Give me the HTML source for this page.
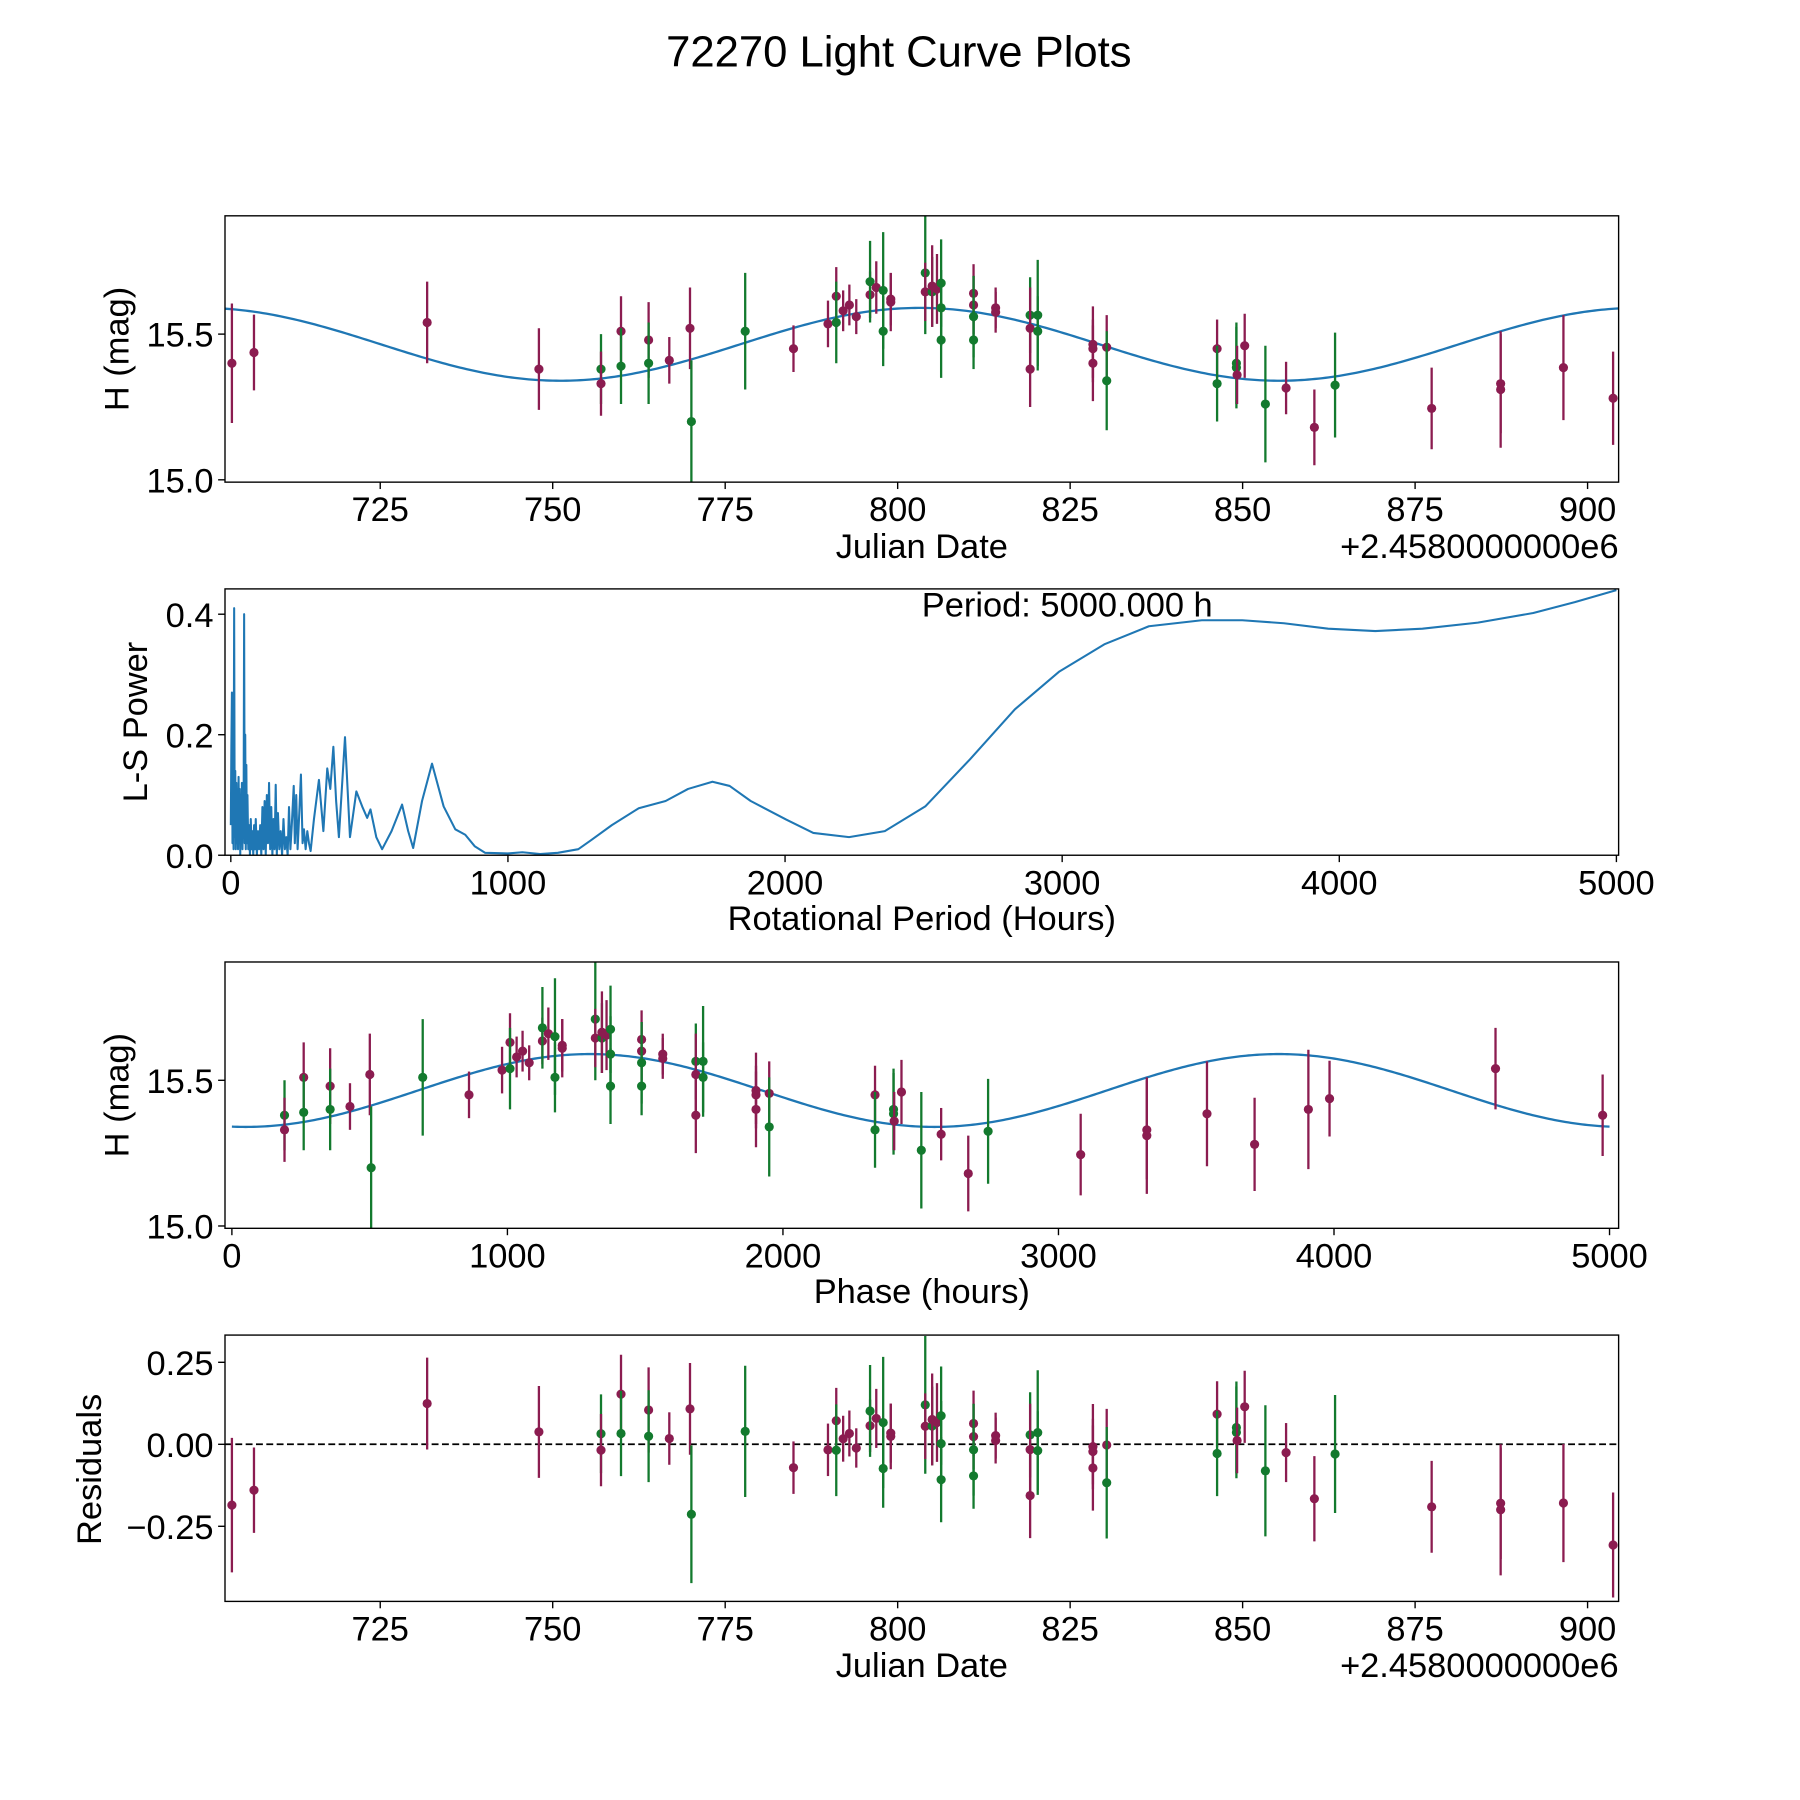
<!DOCTYPE html>
<html><head><meta charset="utf-8"><style>
html,body{margin:0;padding:0;background:#fff}
svg{display:block}
text{font-family:"Liberation Sans",sans-serif;fill:#000}
</style></head>
<body>
<svg id="fig" width="1800" height="1800" viewBox="0 0 1568 1568" xmlns="http://www.w3.org/2000/svg">
<rect width="1568" height="1568" fill="#fff"/>
<text x="783" y="58" font-size="38" text-anchor="middle">72270 Light Curve Plots</text>
</svg>
<script>
// ---- data ----
const obsDates = [703.5,706.7,731.8,748.0,757.0,757.0,759.9,759.9,763.9,763.9,766.9,769.9,770.1,777.9,784.9,789.9,791.1,791.1,792.1,793.0,794.0,796.0,796.0,796.9,797.9,797.9,799.0,799.0,804.0,804.0,805.0,805.0,805.7,806.3,806.3,806.3,811.0,811.0,811.0,811.0,814.2,814.2,819.2,819.2,819.2,820.3,820.3,828.3,828.3,828.3,830.3,830.3,846.3,846.3,849.1,849.1,849.2,850.3,853.3,856.3,860.4,863.4,877.4,887.4,887.4,896.5,903.7];
const obsMags = [15.40,15.437,15.54,15.38,15.38,15.33,15.51,15.39,15.48,15.40,15.41,15.52,15.20,15.51,15.45,15.535,15.63,15.54,15.58,15.60,15.56,15.635,15.68,15.66,15.65,15.51,15.61,15.62,15.71,15.645,15.645,15.665,15.655,15.675,15.59,15.48,15.64,15.60,15.56,15.48,15.59,15.575,15.565,15.52,15.38,15.565,15.51,15.465,15.45,15.40,15.455,15.34,15.45,15.33,15.40,15.385,15.36,15.46,15.26,15.315,15.18,15.325,15.245,15.33,15.31,15.385,15.28];
const obsErrs = [0.205,0.13,0.14,0.14,0.12,0.11,0.12,0.13,0.13,0.14,0.08,0.14,0.21,0.2,0.08,0.08,0.1,0.14,0.07,0.07,0.06,0.08,0.14,0.09,0.2,0.12,0.1,0.09,0.21,0.1,0.12,0.14,0.12,0.15,0.13,0.13,0.1,0.1,0.14,0.1,0.07,0.07,0.13,0.14,0.13,0.19,0.12,0.13,0.1,0.13,0.11,0.17,0.1,0.13,0.14,0.14,0.1,0.11,0.2,0.09,0.13,0.18,0.14,0.17,0.2,0.18,0.16];
const obsBand = ['M','M','M','M','G','M','M','G','M','G','M','M','G','G','M','M','M','G','M','M','M','M','G','M','G','G','M','M','G','M','G','M','M','G','G','G','M','M','G','G','M','M','G','M','M','G','G','M','M','M','M','G','M','G','G','G','M','M','G','M','M','G','M','M','M','M','M'];
const lsPeriods = [0,2,4,6,8,10,12,14,16,18,20,22,24,26,28,30,32,34,36,38,40,42,44,46,48,50,52,54,56,58,60,63,66,69,72,75,78,81,84,87,90,94,98,102,106,110,114,118,122,126,130,134,138,142,146,150,154,158,162,166,170,175,180,185,190,195,200,205,210,215,220,227,231,236,241,247,253,259,264,270,276,282,288,300,318,334,348,359,370,380,390,412,430,453,474,492,504,525,546,580,618,640,658,690,726,768,810,846,880,918,1000,1052,1116,1180,1254,1300,1375,1472,1569,1650,1738,1800,1876,2005,2102,2231,2360,2506,2667,2829,2990,3152,3313,3504,3650,3800,3960,4130,4300,4500,4700,4850,5000];
const lsPower = [0.05,0.18,0.27,0.02,0.12,0.01,0.41,0.03,0.14,0.01,0.12,0.02,0.10,0.01,0.13,0.03,0.11,0.0,0.09,0.02,0.12,0.01,0.08,0.03,0.40,0.02,0.2,0.01,0.15,0.02,0.10,0.01,0.05,0.0,0.06,0.01,0.04,0.0,0.05,0.01,0.06,0.0,0.04,0.01,0.05,0.0,0.08,0.01,0.09,0.0,0.10,0.02,0.12,0.01,0.08,0.0,0.06,0.01,0.117,0.0,0.07,0.01,0.04,0.0,0.06,0.01,0.03,0.0,0.08,0.01,0.05,0.115,0.02,0.10,0.01,0.07,0.134,0.02,0.043,0.01,0.04,0.02,0.007,0.06,0.125,0.04,0.144,0.11,0.18,0.09,0.03,0.196,0.03,0.106,0.081,0.062,0.076,0.03,0.01,0.04,0.084,0.04,0.012,0.09,0.152,0.081,0.043,0.034,0.015,0.004,0.003,0.005,0.002,0.004,0.01,0.025,0.05,0.078,0.09,0.11,0.122,0.115,0.09,0.059,0.037,0.030,0.04,0.081,0.159,0.242,0.305,0.35,0.38,0.39,0.39,0.385,0.376,0.372,0.376,0.386,0.402,0.42,0.44];
const modelMean = 15.465, modelAmp = 0.125, modelHalfPeriod = 2500, modelShift = 50;
const phaseRef = 703.0, phaseRefValue = 3895, phasePeriod = 5000;
const jdTicks = [725,750,775,800,825,850,875,900];
const magTicks = [15.0,15.5];
const lsYTicks = [0.0,0.2,0.4];
const periodTicks = [0,1000,2000,3000,4000,5000];
const resTicks = [0.25,0,-0.25];
const resTickLabels = ['0.25','0.00','\u22120.25'];

// ---- helpers ----
const NS='http://www.w3.org/2000/svg';
const svg=document.getElementById('fig');
function mk(tag,attrs,parent){const e=document.createElementNS(NS,tag);for(const k in attrs)e.setAttribute(k,attrs[k]);(parent||svg).appendChild(e);return e;}
const MAROON='#8b1c50', GREEN='#137a2e', BLUE='#1f77b4';
function phaseOf(t){let p=((t-phaseRef)*24+phaseRefValue)%phasePeriod;if(p<0)p+=phasePeriod;return p;}
function model(p){return modelMean-modelAmp*Math.cos(2*Math.PI*(p-modelShift)/modelHalfPeriod);}

function makeAxes(name,L,T,R,B,x0,x1,y0,y1){
  const g=mk('g',{});
  
  
  return {g,L,T,R,B,sx:v=>L+(v-x0)/(x1-x0)*(R-L),sy:v=>B-(v-y0)/(y1-y0)*(B-T)};
}
function frame(ax){
  const r=mk('rect',{x:ax.L,y:ax.T,width:ax.R-ax.L,height:ax.B-ax.T,fill:'none',stroke:'#000','stroke-width':1.2},ax.g);
  
  
}
function xticks(ax,vals,labels){
  vals.forEach((v,i)=>{const x=ax.sx(v);
    mk('line',{x1:x,x2:x,y1:ax.B,y2:ax.B+6,stroke:'#000','stroke-width':1.2},ax.g);
    const t=mk('text',{x:x,y:ax.B+34,'font-size':30,'text-anchor':'middle'},ax.g);t.textContent=labels?labels[i]:String(v);
    
    });
}
function yticks(ax,vals,labels){
  vals.forEach((v,i)=>{const y=ax.sy(v);
    mk('line',{x1:ax.L-6,x2:ax.L,y1:y,y2:y,stroke:'#000','stroke-width':1.2},ax.g);
    const t=mk('text',{x:ax.L-10,y:y+11,'font-size':30,'text-anchor':'end'},ax.g);t.textContent=labels?labels[i]:v.toFixed(1);
    
    });
}
function label(ax,text,x,y,rot,name,anchor){
  const t=mk('text',{x:x,y:y,'font-size':30,'text-anchor':anchor||'middle'},ax.g);
  if(rot)t.setAttribute('transform','rotate(-90 '+x+' '+y+')');
  t.textContent=text;
  
  
}
function clipFor(ax,id){const cp=mk('clipPath',{id:id},ax.g);mk('rect',{x:ax.L,y:ax.T,width:ax.R-ax.L,height:ax.B-ax.T},cp);return 'url(#'+id+')';}
function errPoints(ax,xs,ys,clip,name){
  const g=mk('g',{'clip-path':clip},ax.g);
  
  
  xs.forEach((xv,i)=>{const c=obsBand[i]==='M'?MAROON:GREEN;const x=ax.sx(xv);
    mk('line',{x1:x,x2:x,y1:ax.sy(ys[i]-obsErrs[i]),y2:ax.sy(ys[i]+obsErrs[i]),stroke:c,'stroke-width':2},g);
    const d=mk('circle',{cx:x,cy:ax.sy(ys[i]),r:4,fill:c},g);
    
    });
}
function line(ax,pts,clip,name,extra){
  const p=mk('polyline',Object.assign({points:pts.map(q=>ax.sx(q[0]).toFixed(2)+','+ax.sy(q[1]).toFixed(2)).join(' '),fill:'none',stroke:BLUE,'stroke-width':2,'stroke-linejoin':'round','clip-path':clip},extra||{}),ax.g);
  
  
}

// ---- panel 1: light curve vs date ----
const a1=makeAxes('light-curve-panel',196,188,1410,420,702.5,904.5,14.992,15.906);
const c1=clipFor(a1,'c1');
const m1=[];for(let t=702.5;t<=904.5;t+=0.5)m1.push([t,model(phaseOf(t))]);
line(a1,m1,c1,'model-curve');
errPoints(a1,obsDates,obsMags,c1,'observations');
frame(a1);xticks(a1,jdTicks);yticks(a1,magTicks);
label(a1,'H (mag)',112,304,true,'y-axis-title');
label(a1,'Julian Date',803,486,false,'x-axis-title');
label(a1,'+2.4580000000e6',1410,486,false,'x-offset-label','end');

// ---- panel 2: periodogram ----
const a2=makeAxes('periodogram-panel',196,513,1410,745,-21,5008,0,0.442);
const c2=clipFor(a2,'c2');
line(a2,lsPeriods.map((p,i)=>[p,lsPower[i]]),c2,'ls-power-line',{'stroke-width':1.8});
frame(a2);xticks(a2,periodTicks);yticks(a2,lsYTicks);
label(a2,'L-S Power',128,629,true,'y-axis-title');
label(a2,'Rotational Period (Hours)',803,810,false,'x-axis-title');
label(a2,'Period: 5000.000 h',803,537,false,'period-annotation','start');

// ---- panel 3: phased ----
const a3=makeAxes('phase-panel',196,838,1410,1070,-25,5033,14.992,15.906);
const c3=clipFor(a3,'c3');
const m3=[];for(let p=0;p<=5000;p+=10)m3.push([p,model(p)]);
line(a3,m3,c3,'phase-model-curve');
errPoints(a3,obsDates.map(phaseOf),obsMags,c3,'phased-observations');
frame(a3);xticks(a3,periodTicks);yticks(a3,magTicks);
label(a3,'H (mag)',112,954,true,'y-axis-title');
label(a3,'Phase (hours)',803,1135,false,'x-axis-title');

// ---- panel 4: residuals ----
const a4=makeAxes('residuals-panel',196,1163,1410,1395,702.5,904.5,-0.479,0.333);
const c4=clipFor(a4,'c4');
const z=mk('line',{x1:a4.L,x2:a4.R,y1:a4.sy(0),y2:a4.sy(0),stroke:'#000','stroke-width':1.5,'stroke-dasharray':'6,3'},a4.g);


errPoints(a4,obsDates,obsMags.map((m,i)=>m-model(phaseOf(obsDates[i]))),c4,'residual-points');
frame(a4);xticks(a4,jdTicks);yticks(a4,resTicks,resTickLabels);
label(a4,'Residuals',88,1280,true,'y-axis-title');
label(a4,'Julian Date',803,1461,false,'x-axis-title');
label(a4,'+2.4580000000e6',1410,1461,false,'x-offset-label','end');
</script>
</body></html>
